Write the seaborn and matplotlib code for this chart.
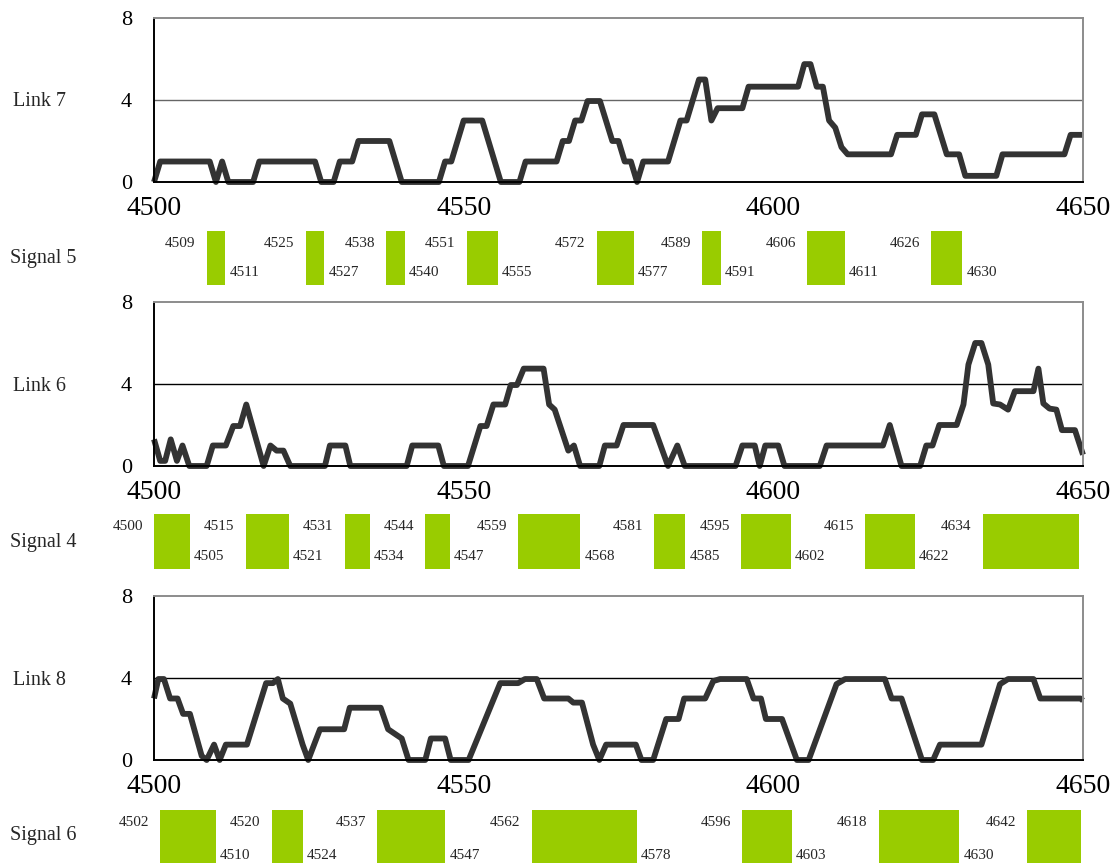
import numpy as np
import pandas as pd
import seaborn as sns
import matplotlib
matplotlib.use("Agg")
import matplotlib.pyplot as plt

# ---- link occupancy traces (vertices) ----
link7_x = [4500, 4501, 4509, 4510, 4511, 4512, 4516, 4517, 4526, 4527, 4529, 4530, 4532, 4533,
           4538, 4540, 4546, 4547, 4548, 4550, 4553, 4554, 4556, 4559, 4560, 4565, 4566, 4567,
           4568, 4569, 4570, 4572, 4574, 4575, 4576, 4577, 4578, 4579, 4583, 4585, 4586, 4588,
           4589, 4590, 4591, 4595, 4596, 4604, 4605, 4606, 4607, 4608, 4609, 4610, 4611, 4612,
           4619, 4620, 4623, 4624, 4626, 4628, 4630, 4631, 4636, 4637, 4647, 4648, 4650]
link7_y = [0, 1, 1, 0, 1, 0, 0, 1, 1, 0, 0, 1, 1, 2,
           2, 0, 0, 1, 1, 3, 3, 2, 0, 0, 1, 1, 2, 2,
           3, 3, 3.95, 3.95, 2, 2, 1, 1, 0, 1, 1, 3, 3, 5,
           5, 3, 3.6, 3.6, 4.65, 4.65, 5.75, 5.75, 4.65, 4.65, 3, 2.65, 1.7, 1.35,
           1.35, 2.3, 2.3, 3.3, 3.3, 1.35, 1.35, 0.3, 0.3, 1.35, 1.35, 2.3, 2.3]

link6_x = [4500, 4501, 4501.8, 4502.7, 4503.7, 4504.6, 4505.7, 4508.5, 4509.5, 4511.6, 4512.8,
           4513.9, 4514.9, 4517.7, 4518.8, 4519.8, 4520.9, 4522, 4527.6, 4528.4, 4530.9, 4531.7,
           4540.8, 4541.7, 4545.9, 4546.8, 4550.7, 4552.7, 4553.7, 4554.8, 4556.7, 4557.6,
           4558.6, 4559.7, 4562.9, 4563.8, 4564.7, 4566.9, 4567.8, 4568.8, 4571.9, 4572.8,
           4574.7, 4575.8, 4580.6, 4583, 4584.5, 4585.7, 4593.9, 4595, 4597, 4597.8, 4598.7,
           4600.8, 4601.8, 4607.5, 4608.6, 4617.7, 4618.8, 4620.7, 4623.7, 4624.7, 4625.7,
           4626.8, 4629.6, 4630.7, 4631.5, 4632.6, 4633.6, 4634.7, 4635.5, 4636.6, 4637.9,
           4639, 4642, 4642.8, 4643.6, 4644.6, 4645.7, 4646.6, 4648.7, 4650]
link6_y = [1.3, 0.25, 0.25, 1.3, 0.25, 1, 0, 0, 1, 1, 1.95,
           1.95, 3, 0, 1, 0.75, 0.75, 0, 0, 1, 1, 0,
           0, 1, 1, 0, 0, 1.95, 1.95, 3, 3, 3.95,
           3.95, 4.75, 4.75, 3, 2.75, 0.75, 1, 0, 0, 1,
           1, 2, 2, 0, 1, 0, 0, 1, 1, 0, 1,
           1, 0, 0, 1, 1, 2, 0, 0, 1, 1,
           2, 2, 3, 4.95, 6, 6, 4.95, 3.05, 3, 2.75,
           3.65, 3.65, 4.75, 3.05, 2.8, 2.75, 1.75, 1.75, 0.55]

link8_x = [4500, 4500.7, 4501.6, 4502.6, 4503.8, 4504.7, 4505.8, 4507.7, 4508.5, 4509.7, 4510.6,
           4511.6, 4515, 4518.1, 4519.2, 4520, 4520.8, 4522, 4524, 4524.9, 4526.8, 4530.7,
           4531.6, 4536.6, 4537.8, 4540, 4541.1, 4543.8, 4544.7, 4547, 4547.9, 4550.8, 4555.9,
           4558.8, 4559.9, 4561.8, 4563, 4566.9, 4567.7, 4569.1, 4570.9, 4571.9, 4573, 4577.8,
           4578.7, 4580.6, 4582.7, 4584.7, 4585.6, 4589, 4590.3, 4591.4, 4595.7, 4596.8, 4598,
           4598.8, 4601.4, 4603.8, 4605.7, 4610.2, 4611.6, 4618, 4619.1, 4620.7, 4624, 4625.8,
           4626.9, 4633.6, 4636.6, 4637.9, 4642, 4643.1, 4649.6, 4650]
link8_y = [3, 3.95, 3.95, 3, 3, 2.25, 2.25, 0.2, 0, 0.75, 0,
           0.75, 0.75, 3.75, 3.75, 3.95, 3, 2.75, 0.75, 0, 1.5, 1.5,
           2.55, 2.55, 1.5, 1.05, 0, 0, 1.05, 1.05, 0, 0, 3.75,
           3.75, 3.95, 3.95, 3, 3, 2.8, 2.8, 0.75, 0, 0.75, 0.75,
           0, 0, 2, 2, 3, 3, 3.85, 3.95, 3.95, 3, 3,
           2, 2, 0, 0, 3.7, 3.95, 3.95, 3, 3, 0, 0,
           0.75, 0.75, 3.7, 3.95, 3.95, 3, 3, 2.9]

# ---- signal green phases (start / end) ----
sig5_start = [4509, 4525, 4538, 4551, 4572, 4589, 4606, 4626]
sig5_end = [4511, 4527, 4540, 4555, 4577, 4591, 4611, 4630]
sig4_start = [4500, 4515, 4531, 4544, 4559, 4581, 4595, 4615, 4634]
sig4_end = [4505, 4521, 4534, 4547, 4568, 4585, 4602, 4622, 4648.6]
sig6_start = [4502, 4520, 4537, 4562, 4596, 4618, 4642]
sig6_end = [4510, 4524, 4547, 4578, 4603, 4630, 4649.6]

sns.set_style("white")
plt.rcParams['font.family'] = ['Liberation Serif', 'DejaVu Serif']

W, H = 1112, 863
fig = plt.figure(figsize=(W / 100, H / 100), dpi=100)

def fx(px):
    return px / W

def fy(py):
    return 1 - py / H

left, right = 154, 1083
LINE = '#333333'
GREEN = '#99cc00'


def link_panel(top, bottom, xs, ys, name, grid_color):
    ax = fig.add_axes([fx(left), fy(bottom), fx(right - left), (bottom - top) / H])
    df = pd.DataFrame({'t': xs, 'v': ys})
    sns.lineplot(data=df, x='t', y='v', ax=ax, color=LINE, linewidth=4.2,
                 estimator=None, sort=False, clip_on=False,
                 solid_capstyle='butt', solid_joinstyle='round')
    ax.axhline(4, color=grid_color, lw=1, zorder=0)
    ax.set_xlim(4500, 4650)
    ax.set_ylim(0, 8)
    ax.set_xticks([4500, 4550, 4600, 4650])
    ax.set_yticks([0, 4, 8])
    ax.set_xlabel('')
    ax.set_ylabel('')
    ax.tick_params(axis='x', direction='in', length=5, width=1, labelsize=20, pad=10, colors='black')
    ax.tick_params(axis='y', direction='in', length=5, width=1, labelsize=16, pad=16, colors='black')
    for s in ['left', 'bottom']:
        ax.spines[s].set_color('black')
        ax.spines[s].set_linewidth(1.4)
    for s in ['top', 'right']:
        ax.spines[s].set_color('#8c8c8c')
        ax.spines[s].set_linewidth(1.4)
    fig.text(fx(13), fy((top + bottom) / 2 + 2), name, fontsize=14.5, ha='left', va='center')
    return ax


def signal_row(top, bottom, starts, ends, shift, name, name_y):
    ax = fig.add_axes([fx(left), fy(bottom), fx(right - left), (bottom - top) / H])
    ax.set_xlim(4500, 4650)
    ax.set_ylim(0, 1)
    ax.axis('off')
    for s, e in zip(starts, ends):
        ax.bar(s + shift, 1, width=e - s + 1, bottom=0, align='edge', color=GREEN,
               linewidth=0)
        ax.annotate(str(s), xy=(max(s + shift, 4500), 1), xytext=(-8, -9),
                    textcoords='offset points', ha='right', va='center', fontsize=11,
                    annotation_clip=False)
        if e < 4645:
            ax.annotate(str(int(e)), xy=(e + shift + 1, 0), xytext=(3, 9),
                        textcoords='offset points', ha='left', va='center', fontsize=11,
                        annotation_clip=False)
    fig.text(fx(10), fy(name_y), name, fontsize=14.5, ha='left', va='center')
    return ax


link_panel(18, 182, link7_x, link7_y, 'Link 7', '#666666')
signal_row(231, 285, sig5_start, sig5_end, -0.5, 'Signal 5', 258)
link_panel(302, 466, link6_x, link6_y, 'Link 6', 'black')
signal_row(514, 569, sig4_start, sig4_end, -0.2, 'Signal 4', 543)
link_panel(596, 760, link8_x, link8_y, 'Link 8', 'black')
signal_row(810, 868, sig6_start, sig6_end, -1.0, 'Signal 6', 835)

fig.savefig('out.png', dpi=100)
